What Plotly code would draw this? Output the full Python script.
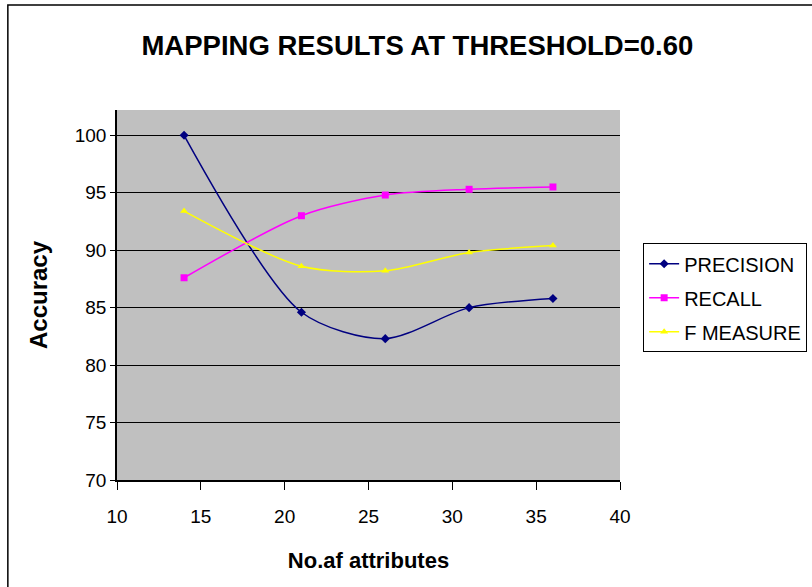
import plotly.graph_objects as go

attributes = [14, 21, 26, 31, 36]
precision = [100.0, 84.6, 82.3, 85.0, 85.8]
recall = [87.6, 93.0, 94.8, 95.3, 95.5]
f_measure = [93.4, 88.6, 88.2, 89.8, 90.4]

x_ticks = [10, 15, 20, 25, 30, 35, 40]
y_ticks = [70, 75, 80, 85, 90, 95, 100]

FONT = "Liberation Sans, Arial, sans-serif"

fig = go.Figure()
series = [
    ("PRECISION", precision, "#000080", "diamond"),
    ("RECALL", recall, "#FF00FF", "square"),
    ("F MEASURE", f_measure, "#FFFF00", "triangle-up"),
]
for name, vals, col, sym in series:
    fig.add_trace(go.Scatter(
        x=attributes, y=vals, name=name, mode="lines+markers", legendgroup=name,
        line=dict(color=col, width=1.5, shape="spline", smoothing=0.8),
        marker=dict(color=col, symbol=sym, size=7),
    ))

fig.update_layout(
    width=812, height=587,
    margin=dict(l=117, r=192, t=110, b=107, autoexpand=False),
    paper_bgcolor="white", plot_bgcolor="#C0C0C0",
    font=dict(family=FONT, color="black", size=19),
    title=dict(text="<b>MAPPING RESULTS AT THRESHOLD=0.60</b>", x=0.514, xanchor="center",
               y=0.923, yanchor="middle", font=dict(size=27.5, family=FONT)),
    showlegend=True,
    legend=dict(x=1.046, y=0.64, xanchor="left", yanchor="top",
                bordercolor="black", borderwidth=1, bgcolor="white",
                font=dict(size=20, family=FONT), tracegroupgap=5, itemwidth=30),
    shapes=[dict(type="rect", xref="paper", yref="paper", x0=-0.217, x1=1.45,
                 y0=-0.4, y1=1.284, line=dict(color="black", width=1.5))],
)
fig.update_xaxes(range=[10, 40], tickvals=x_ticks, showgrid=False, zeroline=False,
                 showline=True, linecolor="black", linewidth=1.5,
                 ticks="outside", ticklen=8, tickcolor="black", ticklabelstandoff=10,
                 title=dict(text="<b>No.af attributes</b>", font=dict(size=22), standoff=27),
                 tickfont=dict(size=19))
fig.update_yaxes(range=[70, 102.2], tickvals=y_ticks, showgrid=True, gridcolor="black",
                 gridwidth=1, zeroline=False, showline=True, linecolor="black", linewidth=1.5,
                 ticks="outside", ticklen=5, tickcolor="black",
                 title=dict(text="<b>Accuracy</b>", font=dict(size=24), standoff=20),
                 tickfont=dict(size=19))

fig.write_html("out.html")
